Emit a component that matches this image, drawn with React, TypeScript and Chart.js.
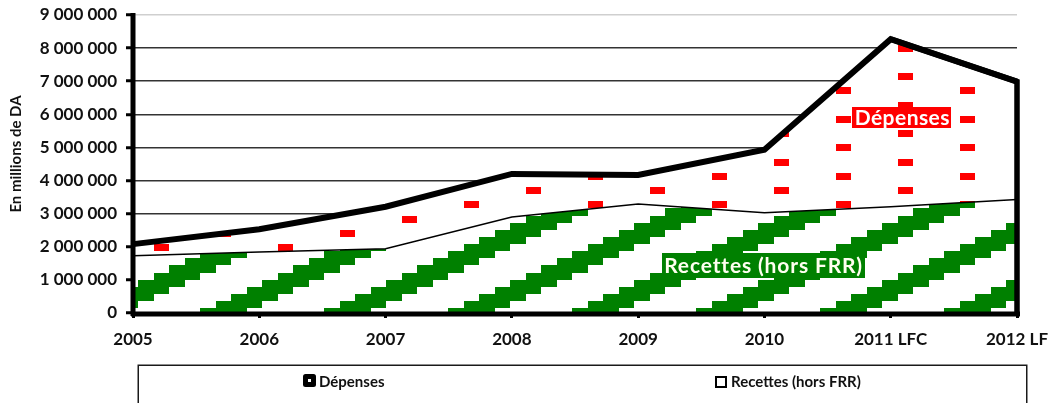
import React, { useEffect, useRef } from 'react';
import { Chart, registerables } from 'chart.js';

Chart.register(...registerables);

// ---------- data ----------
const categories = ['2005', '2006', '2007', '2008', '2009', '2010', '2011 LFC', '2012 LF'];
const depenses = [2080000, 2530000, 3210000, 4200000, 4170000, 4930000, 8270000, 6990000];
const recettes = [1730000, 1840000, 1940000, 2900000, 3290000, 3030000, 3210000, 3430000];
const seriesNames = ['Dépenses', 'Recettes (hors FRR)'];
const yAxisTitle = 'En millions de DA';
const Y_MIN = 0;
const Y_MAX = 9000000;
const Y_STEP = 1000000;

// ---------- look ----------
const W = 1049;
const H = 403;
const FONT = 'Lato, "Open Sans", sans-serif';
const RED = '#ff0000';
const GREEN = '#008000';

// pattern bitmap: 8x8 cells, anchored in canvas coordinates
const TILE_W = 124;
const TILE_H = 57;
const ORIGIN_X = 29.5;
const ORIGIN_Y = 16;
const redCells: [number, number][] = [[0, 0], [0, 4], [4, 2], [4, 6]];
const greenCells: [number, number][] = [];
for (let c = 0; c < 8; c++) {
  for (let k = 4; k <= 6; k++) greenCells.push([c, (((k - c) % 8) + 8) % 8]);
}

function makePattern(ctx: CanvasRenderingContext2D, color: string, cells: [number, number][]) {
  const cv = document.createElement('canvas');
  cv.width = TILE_W;
  cv.height = TILE_H;
  const g = cv.getContext('2d') as CanvasRenderingContext2D;
  g.fillStyle = '#ffffff';
  g.fillRect(0, 0, TILE_W, TILE_H);
  g.fillStyle = color;
  const pw = TILE_W / 8;
  const ph = TILE_H / 8;
  for (const [c, r] of cells) {
    const x0 = Math.round(ORIGIN_X + c * pw);
    const x1 = Math.round(ORIGIN_X + (c + 1) * pw);
    const y0 = Math.round(ORIGIN_Y + r * ph);
    const y1 = Math.round(ORIGIN_Y + (r + 1) * ph);
    for (const dx of [-TILE_W, 0, TILE_W]) {
      for (const dy of [-TILE_H, 0, TILE_H]) {
        g.fillRect(x0 + dx, y0 + dy, x1 - x0, y1 - y0);
      }
    }
  }
  return ctx.createPattern(cv, 'repeat') as CanvasPattern;
}

const inlineLabels = [
  { text: seriesNames[0], xIndex: 6.09, value: 5910000, bg: RED, color: '#ffffff', size: 21, spacing: 0.45, boxH: 21 },
  { text: seriesNames[1], xIndex: 4.99, value: 1440000, bg: GREEN, color: '#fffff0', size: 21, spacing: 0.85, boxH: 25 },
];

const decorPlugin = {
  id: 'decor',
  afterDatasetsDraw(chart: any) {
    const { ctx, chartArea: a, scales } = chart;
    const xs = scales.x;
    const ys = scales.y;
    ctx.save();
    ctx.strokeStyle = '#000';
    ctx.lineCap = 'butt';
    ctx.lineJoin = 'miter';
    // closing edge of the Dépenses area
    const meta = chart.getDatasetMeta(0);
    const pts = meta.data;
    const last = pts[pts.length - 1];
    const prev = pts[pts.length - 2];
    ctx.lineWidth = 5.5;
    ctx.beginPath();
    ctx.moveTo(prev.x, prev.y);
    ctx.lineTo(last.x, last.y);
    ctx.lineTo(last.x, a.bottom);
    ctx.stroke();
    // axes
    ctx.lineWidth = 5;
    ctx.beginPath();
    ctx.moveTo(a.left, a.top - 2);
    ctx.lineTo(a.left, a.bottom + 3);
    ctx.stroke();
    ctx.beginPath();
    ctx.moveTo(a.left - 2, a.bottom + 1);
    ctx.lineTo(a.right + 3, a.bottom + 1);
    ctx.stroke();
    // inline labels
    for (const l of inlineLabels) {
      const cx = xs.getPixelForValue(l.xIndex);
      const cy = ys.getPixelForValue(l.value);
      ctx.font = `bold ${l.size}px ${FONT}`;
      (ctx as any).letterSpacing = `${l.spacing}px`;
      const tw = ctx.measureText(l.text).width;
      const bw = tw + 4;
      const bh = l.boxH;
      ctx.fillStyle = l.bg;
      ctx.fillRect(Math.round(cx - bw / 2), Math.round(cy - bh / 2), Math.round(bw), bh);
      ctx.fillStyle = l.color;
      ctx.textAlign = 'center';
      ctx.textBaseline = 'middle';
      ctx.fillText(l.text, cx + l.spacing / 2, cy + 1);
      (ctx as any).letterSpacing = '0px';
    }
    ctx.restore();
  },
  afterDraw(chart: any) {
    const { ctx, chartArea: a } = chart;
    ctx.save();
    // y axis title
    ctx.fillStyle = '#111';
    ctx.font = `bold 15px ${FONT}`;
    ctx.textAlign = 'center';
    ctx.textBaseline = 'middle';
    ctx.translate(16, (a.top + a.bottom) / 2 - 10);
    ctx.rotate(-Math.PI / 2);
    ctx.fillText(yAxisTitle, 0, 0);
    ctx.restore();

    // legend box
    ctx.save();
    ctx.strokeStyle = '#1a1a1a';
    ctx.lineWidth = 1.5;
    ctx.strokeRect(138.25, 365.25, 888.5, 60);
    ctx.font = `bold 15px ${FONT}`;
    ctx.textAlign = 'left';
    ctx.textBaseline = 'middle';
    // Dépenses marker
    ctx.fillStyle = '#000';
    ctx.beginPath();
    const mx = 303, my = 374, ms = 13, rr = 2.5;
    ctx.moveTo(mx + rr, my);
    ctx.arcTo(mx + ms, my, mx + ms, my + ms, rr);
    ctx.arcTo(mx + ms, my + ms, mx, my + ms, rr);
    ctx.arcTo(mx, my + ms, mx, my, rr);
    ctx.arcTo(mx, my, mx + ms, my, rr);
    ctx.fill();
    ctx.fillStyle = '#fff';
    ctx.fillRect(mx + 5, my + 5, 3, 3);
    ctx.fillStyle = '#111';
    ctx.fillText(seriesNames[0], 319, 382);
    // Recettes marker
    ctx.fillStyle = '#fff';
    ctx.fillRect(716, 377, 10, 10);
    ctx.strokeStyle = '#000';
    ctx.lineWidth = 2;
    ctx.strokeRect(716, 377, 10, 10);
    ctx.fillStyle = '#111';
    ctx.fillText(seriesNames[1], 731, 382);
    ctx.restore();
  },
};

function fmt(v: number) {
  return String(v).replace(/\B(?=(\d{3})+(?!\d))/g, ' ');
}

export default function App() {
  const ref = useRef<HTMLCanvasElement | null>(null);

  useEffect(() => {
    const canvas = ref.current;
    if (!canvas) return;
    const ctx = canvas.getContext('2d') as CanvasRenderingContext2D;
    const redPattern = makePattern(ctx, RED, redCells);
    const greenPattern = makePattern(ctx, GREEN, greenCells);

    const chart = new Chart(ctx, {
      type: 'line',
      data: {
        labels: categories,
        datasets: [
          {
            label: seriesNames[0],
            data: depenses,
            borderColor: '#000',
            borderWidth: 6,
            borderJoinStyle: 'miter',
            backgroundColor: redPattern,
            fill: '+1',
            pointRadius: 0,
            tension: 0,
          },
          {
            label: seriesNames[1],
            data: recettes,
            borderColor: '#000',
            borderWidth: 1.5,
            backgroundColor: greenPattern,
            fill: 'origin',
            pointRadius: 0,
            tension: 0,
          },
        ],
      },
      options: {
        responsive: false,
        animation: false,
        devicePixelRatio: 1,
        layout: { padding: { top: 15, right: 32, bottom: 50, left: 0 } },
        plugins: {
          legend: { display: false },
          tooltip: { enabled: false },
          filler: { drawTime: 'beforeDatasetsDraw' },
        },
        scales: {
          x: {
            offset: false,
            border: { display: false },
            grid: {
              drawOnChartArea: false,
              drawTicks: true,
              tickLength: 5,
              tickWidth: 3,
              tickColor: '#000',
            },
            ticks: {
              color: '#111',
              padding: 11,
              maxRotation: 0,
              autoSkip: false,
              font: { family: FONT, size: 17, weight: 'bold' },
            },
            afterFit: (s: any) => {
              s.height = 40;
              s.paddingLeft = 0;
              s.paddingRight = 0;
            },
          },
          y: {
            min: Y_MIN,
            max: Y_MAX,
            border: { display: false },
            grid: {
              color: (c: any) => (c.tick && c.tick.value === Y_MAX ? '#cfcfcf' : '#333333'),
              lineWidth: 1.5,
              tickLength: 7,
              tickWidth: 3,
              tickColor: '#000',
            },
            ticks: {
              stepSize: Y_STEP,
              color: '#111',
              padding: 9,
              font: { family: FONT, size: 17, weight: 'bold' },
              callback: (v: any) => fmt(Number(v)),
            },
            afterFit: (s: any) => {
              s.width = 133;
              s.paddingTop = 0;
              s.paddingBottom = 0;
            },
          },
        },
      },
      plugins: [decorPlugin],
    } as any);

    return () => chart.destroy();
  }, []);

  return (
    <div
      style={{
        position: 'fixed',
        left: 0,
        top: 0,
        width: W,
        height: H,
        overflow: 'hidden',
        background: '#fff',
      }}
    >
      <canvas ref={ref} width={W} height={H} style={{ display: 'block' }} />
    </div>
  );
}
